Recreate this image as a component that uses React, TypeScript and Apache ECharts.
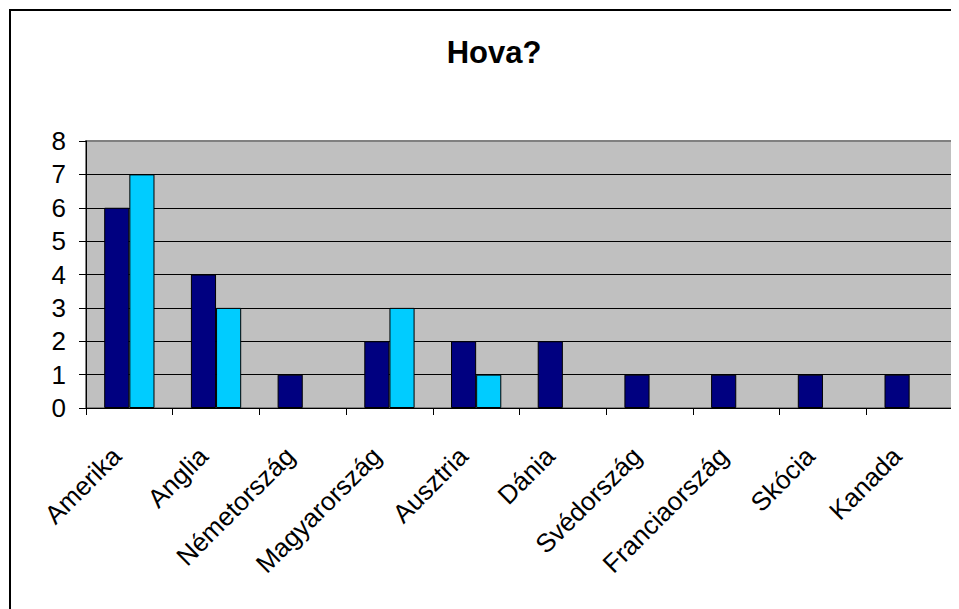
import React, { useEffect, useRef } from "react";
import * as echarts from "echarts";

const titleText = "Hova?";
const categories = [
  "Amerika",
  "Anglia",
  "Németország",
  "Magyarország",
  "Ausztria",
  "Dánia",
  "Svédország",
  "Franciaország",
  "Skócia",
  "Kanada",
];
const series1 = [6, 4, 1, 2, 2, 2, 1, 1, 1, 1];
const series2 = [7, 3, 0, 3, 1, 0, 0, 0, 0, 0];
const yTicks = [0, 1, 2, 3, 4, 5, 6, 7, 8];

export default function App() {
  const ref = useRef<HTMLDivElement>(null);
  useEffect(() => {
    if (!ref.current) return;
    const chart = echarts.init(ref.current, null, { renderer: "svg" });
    const font = "'Liberation Sans', Arial, sans-serif";
    chart.setOption({
      animation: false,
      backgroundColor: "#ffffff",
      title: {
        text: titleText,
        left: 481,
        top: 24,
        textAlign: "center",
        textStyle: { fontFamily: font, fontSize: 31, fontWeight: "bold", color: "#000" },
      },
      graphic: [
        {
          type: "rect",
          shape: { x: 2, y: 2, width: 2000, height: 2000 },
          style: { fill: "none", stroke: "#000", lineWidth: 2 },
          silent: true,
          z: 100,
        },
      ],
      grid: {
        left: 78,
        top: 133,
        right: 6,
        bottom: 201,
        show: true,
        backgroundColor: "#C0C0C0",
        borderColor: "#808080",
        borderWidth: 2,
      },
      xAxis: {
        type: "category",
        data: categories,
        axisLine: { lineStyle: { color: "#000", width: 1 } },
        axisTick: { show: true, length: 7, lineStyle: { color: "#000" } },
        axisLabel: {
          interval: 0,
          rotate: 45,
          margin: 31,
          padding: [0, 18, 0, 0],
          fontFamily: font,
          fontSize: 26,
          color: "#000",
        },
        splitLine: { show: false },
      },
      yAxis: {
        type: "value",
        min: yTicks[0],
        max: yTicks[yTicks.length - 1],
        interval: 1,
        axisLine: { show: true, lineStyle: { color: "#000", width: 1 } },
        axisTick: { show: true, length: 7, lineStyle: { color: "#000" } },
        axisLabel: { margin: 20, fontFamily: font, fontSize: 26, color: "#000" },
        splitLine: {
          show: true,
          showMinLine: false,
          showMaxLine: false,
          lineStyle: { color: "#000", width: 1 },
        },
      },
      series: [
        {
          type: "bar",
          data: series1.map((v) => (v === 0 ? "-" : v)),
          barGap: "0%",
          barCategoryGap: "42%",
          itemStyle: { color: "#000080", borderColor: "#000", borderWidth: 1 },
        },
        {
          type: "bar",
          data: series2.map((v) => (v === 0 ? "-" : v)),
          barGap: "0%",
          barCategoryGap: "42%",
          itemStyle: { color: "#00CCFF", borderColor: "#000", borderWidth: 1 },
        },
      ],
    });
    return () => chart.dispose();
  }, []);
  return <div ref={ref} style={{ width: 951, height: 601 }} />;
}
